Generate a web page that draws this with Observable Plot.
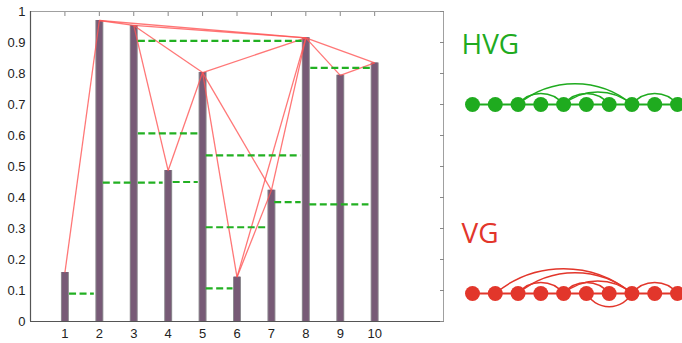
<!DOCTYPE html>
<html>
<head>
<meta charset="utf-8">
<script src="https://cdn.jsdelivr.net/npm/d3@7"></script>
<script src="https://cdn.jsdelivr.net/npm/@observablehq/plot@0.6"></script>
<style>
  html, body { margin: 0; padding: 0; background: #fff; }
  #wrap { position: relative; width: 682px; height: 343px; overflow: hidden; }
  #main { position: absolute; left: 0; top: 0; }
  #side { position: absolute; left: 450px; top: 0; }
</style>
</head>
<body>
<div id="wrap"><div id="main"></div><div id="side"></div></div>
<script>
// ---- data ----
const positions = [1, 2, 3, 4, 5, 6, 7, 8, 9, 10];
const values = [0.158, 0.971, 0.955, 0.487, 0.803, 0.143, 0.423, 0.915, 0.794, 0.834];
const xTicks = [1, 2, 3, 4, 5, 6, 7, 8, 9, 10];
const yTicks = [0, 0.1, 0.2, 0.3, 0.4, 0.5, 0.6, 0.7, 0.8, 0.9, 1];
// natural visibility graph edges (pairs of positions)
const vgEdges = [[1,2],[2,3],[2,8],[3,4],[3,5],[3,8],[4,5],[5,6],[5,7],[5,8],[6,7],[6,8],[7,8],[8,9],[8,10],[9,10]];
// horizontal visibility graph edges
const hvgEdges = [[1,2],[2,3],[3,4],[3,5],[3,8],[4,5],[5,6],[5,7],[5,8],[6,7],[7,8],[8,9],[8,10],[9,10]];
// VG arcs drawn below the node row
const vgBelow = [[6,8]];
// dashed horizontal-visibility segments: start, end, level
const hvgStart = [1.12, 2.1, 3.12, 4.13, 3.12, 3.12, 5.09, 5.09, 5.09, 7.08, 8.1, 8.13];
const hvgEnd   = [1.84, 2.91, 3.84, 4.86, 4.88, 7.88, 5.87, 6.83, 7.84, 7.85, 9.82, 9.87];
const hvgLevel = [0.09, 0.448, 0.448, 0.45, 0.607, 0.905, 0.107, 0.304, 0.536, 0.385, 0.378, 0.818];

// ---- derived tables ----
const bars = positions.map((p, i) => ({p, v: values[i]}));
const valAt = p => values[positions.indexOf(p)];
const vgLinks = vgEdges.map(([a, b]) => ({x1: a, y1: valAt(a), x2: b, y2: valAt(b)}));
const hvgSegs = hvgStart.map((s, i) => ({x1: s, x2: hvgEnd[i], y: hvgLevel[i]}));

const GREEN = "#1fab1f";
const RED = "#e2362b";

const main = Plot.plot({
  width: 450, height: 343,
  marginLeft: 30, marginRight: 7, marginTop: 11, marginBottom: 22,
  style: {fontFamily: "Liberation Sans, Arial, sans-serif", background: "#fff"},
  x: {domain: [0, 12], axis: null},
  y: {domain: [0, 1], axis: null},
  marks: [
    Plot.ruleX(bars, {x: "p", y1: 0, y2: "v", stroke: "#8e8a90", strokeWidth: 8}),
    Plot.ruleX(bars, {x: "p", y1: 0, y2: "v", stroke: "#775a76", strokeWidth: 6}),
    Plot.link(vgLinks, {x1: "x1", y1: "y1", x2: "x2", y2: "y2", stroke: "#ff5555", strokeOpacity: 0.8, strokeWidth: 1.3}),
    Plot.link(hvgSegs, {x1: "x1", x2: "x2", y1: "y", y2: "y", stroke: "#22b022", strokeWidth: 2.2, strokeDasharray: "7,3.5"}),
    Plot.ruleY([1], {stroke: "#a0a0a0", strokeWidth: 1}),
    Plot.ruleX([12], {stroke: "#a0a0a0", strokeWidth: 1}),
    Plot.ruleY([0], {stroke: "#555", strokeWidth: 1.2}),
    Plot.ruleX([0], {stroke: "#555", strokeWidth: 1.2}),
    Plot.axisX(xTicks, {anchor: "bottom", tickSize: 0, tickPadding: 7, fontSize: 13, fill: "#222"}),
    Plot.axisX(xTicks, {anchor: "top", tickSize: -4, stroke: "#888", tickFormat: () => ""}),
    Plot.axisY(yTicks, {anchor: "left", tickSize: 0, tickPadding: 5, fontSize: 13, fill: "#222", tickFormat: d => String(d)}),
    Plot.axisY(yTicks, {anchor: "right", tickSize: -4, stroke: "#888", tickFormat: () => ""})
  ]
});
document.getElementById("main").appendChild(main);

// ---- side diagrams ----
const arcs = (edges, row) => edges.filter(([a, b]) => b - a > 1).map(([a, b]) => ({a, b, row}));
const isBelow = ([a, b]) => vgBelow.some(([c, d]) => c === a && d === b);
const hvgArcs = arcs(hvgEdges, "HVG");
const vgArcsAbove = arcs(vgEdges.filter(e => !isBelow(e)), "VG");
const vgArcsBelow = arcs(vgEdges.filter(isBelow), "VG");
const nodes = ["HVG", "VG"].flatMap(row => positions.map(p => ({p, row})));

const arcMarks = (data, color, bendShort, bendLong) => [
  Plot.arrow(data.filter(d => d.b - d.a === 2), {x1: "a", x2: "b", y1: "row", y2: "row", bend: bendShort, headLength: 0, stroke: color, strokeWidth: 1.5}),
  Plot.arrow(data.filter(d => d.b - d.a > 2), {x1: "a", x2: "b", y1: "row", y2: "row", bend: bendLong, headLength: 0, stroke: color, strokeWidth: 1.5})
];

const side = Plot.plot({
  width: 232, height: 343,
  marginLeft: 22, marginRight: 5, marginTop: 0, marginBottom: 0,
  style: {fontFamily: "Open Sans, sans-serif", background: "#fff", overflow: "visible"},
  x: {domain: [1, 10], axis: null},
  y: {type: "point", domain: ["HVG", "VG"], range: [104, 293], padding: 0, axis: null},
  color: {domain: ["HVG", "VG"], range: [GREEN, RED]},
  marks: [
    Plot.ruleY(["HVG", "VG"], {y: d => d, x1: 1, x2: 10, stroke: d => d, strokeWidth: 2.2}),
    ...arcMarks(hvgArcs, GREEN, 52, 40),
    ...arcMarks(vgArcsAbove, RED, 52, 40),
    ...arcMarks(vgArcsBelow, RED, -60, -60),
    Plot.dot(nodes, {x: "p", y: "row", r: 7.5, fill: "row", stroke: "none"}),
    Plot.text(["HVG", "VG"], {x: 1, y: d => d, text: d => d, dx: -11, dy: -51, textAnchor: "start", lineAnchor: "bottom", fontSize: 28, fill: d => d})
  ]
});
document.getElementById("side").appendChild(side);
</script>
</body>
</html>
